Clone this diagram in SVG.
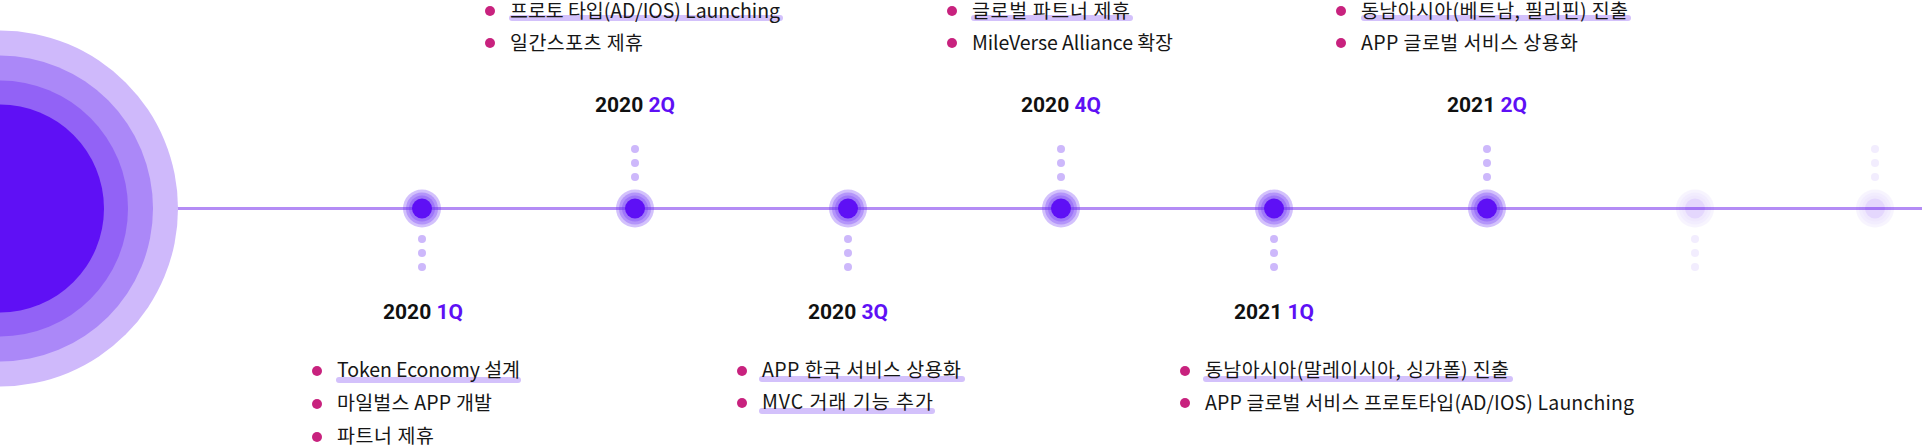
<svg xmlns="http://www.w3.org/2000/svg" width="1922" height="448" viewBox="0 0 1922 448">
<style>
.ttl{font-family:Roboto,"Noto Sans CJK KR",sans-serif;font-weight:700;font-size:21px;fill:#111;text-anchor:middle}
.q{fill:#5e10f5}
.item{font-family:"Noto Sans CJK KR","Noto Sans",sans-serif;font-size:19.5px;fill:#161616}
.bul{fill:#c8227e}
.hl{fill:#d3c1fb}
.dot{fill:#cdb8fb}
.ring{fill:#6e32f5;fill-opacity:0.3}
.core{fill:#5e10f5}
.faded{opacity:0.16}
.fdot{fill:#cdb8fb;opacity:0.25}
</style>
<defs>
<g id="nd">
<circle class="ring" r="19"/>
<circle class="ring" r="16"/>
<circle class="ring" r="13"/>
<circle class="core" r="10"/>
</g>
</defs>
<rect width="1922" height="448" fill="#fff"/>
<g id="connectors">
<line x1="0" y1="208.5" x2="1922" y2="208.5" stroke="#b48cf5" stroke-width="3"/>
</g>
<g id="origin">
<circle cx="0" cy="208.5" r="178" fill="#cfb9fb"/>
<circle cx="0" cy="208.5" r="153" fill="#ab88f8"/>
<circle cx="0" cy="208.5" r="128" fill="#9262f6"/>
<circle cx="0" cy="208.5" r="104" fill="#5f10f5"/>
</g>
<g id="n2020-1q">
<use href="#nd" x="422" y="208.5"/>
<circle class="dot" cx="422" cy="239" r="4"/><circle class="dot" cx="422" cy="253" r="4"/><circle class="dot" cx="422" cy="267" r="4"/>
<text class="ttl" x="423" y="319">2020 <tspan class="q">1Q</tspan></text>
<rect class="hl" x="336" y="377" width="185" height="6" rx="3"/>
<circle class="bul" cx="317" cy="371" r="5"/><text class="item" x="337" y="377" textLength="183">Token Economy 설계</text>
<circle class="bul" cx="317" cy="404" r="5"/><text class="item" x="337" y="410" textLength="155">마일벌스 APP 개발</text>
<circle class="bul" cx="317" cy="437" r="5"/><text class="item" x="337" y="443" textLength="97">파트너 제휴</text>
</g>
<g id="n2020-2q">
<use href="#nd" x="635" y="208.5"/>
<circle class="dot" cx="635" cy="149" r="4"/><circle class="dot" cx="635" cy="163" r="4"/><circle class="dot" cx="635" cy="177" r="4"/>
<text class="ttl" x="635" y="112">2020 <tspan class="q">2Q</tspan></text>
<rect class="hl" x="509" y="15" width="274" height="6" rx="3"/>
<circle class="bul" cx="490" cy="11" r="5"/><text class="item" x="510" y="18" textLength="270">프로토 타입(AD/IOS) Launching</text>
<circle class="bul" cx="490" cy="43" r="5"/><text class="item" x="510" y="50" textLength="133">일간스포츠 제휴</text>
</g>
<g id="n2020-3q">
<use href="#nd" x="848" y="208.5"/>
<circle class="dot" cx="848" cy="239" r="4"/><circle class="dot" cx="848" cy="253" r="4"/><circle class="dot" cx="848" cy="267" r="4"/>
<text class="ttl" x="848" y="319">2020 <tspan class="q">3Q</tspan></text>
<rect class="hl" x="759" y="376" width="206" height="6" rx="3"/>
<rect class="hl" x="759" y="408" width="176" height="6" rx="3"/>
<circle class="bul" cx="742" cy="371" r="5"/><text class="item" x="762" y="377" textLength="199">APP 한국 서비스 상용화</text>
<circle class="bul" cx="742" cy="403" r="5"/><text class="item" x="762" y="409" textLength="171">MVC 거래 기능 추가</text>
</g>
<g id="n2020-4q">
<use href="#nd" x="1061" y="208.5"/>
<circle class="dot" cx="1061" cy="149" r="4"/><circle class="dot" cx="1061" cy="163" r="4"/><circle class="dot" cx="1061" cy="177" r="4"/>
<text class="ttl" x="1061" y="112">2020 <tspan class="q">4Q</tspan></text>
<rect class="hl" x="971" y="15" width="162" height="6" rx="3"/>
<circle class="bul" cx="952" cy="11" r="5"/><text class="item" x="972" y="18" textLength="158">글로벌 파트너 제휴</text>
<circle class="bul" cx="952" cy="43" r="5"/><text class="item" x="972" y="50" textLength="201">MileVerse Alliance 확장</text>
</g>
<g id="n2021-1q">
<use href="#nd" x="1274" y="208.5"/>
<circle class="dot" cx="1274" cy="239" r="4"/><circle class="dot" cx="1274" cy="253" r="4"/><circle class="dot" cx="1274" cy="267" r="4"/>
<text class="ttl" x="1274" y="319">2021 <tspan class="q">1Q</tspan></text>
<rect class="hl" x="1203" y="376" width="310" height="6" rx="3"/>
<circle class="bul" cx="1185" cy="371" r="5"/><text class="item" x="1205" y="377" textLength="304">동남아시아(말레이시아, 싱가폴) 진출</text>
<circle class="bul" cx="1185" cy="403" r="5"/><text class="item" x="1205" y="410" textLength="429">APP 글로벌 서비스 프로토타입(AD/IOS) Launching</text>
</g>
<g id="n2021-2q">
<use href="#nd" x="1487" y="208.5"/>
<circle class="dot" cx="1487" cy="149" r="4"/><circle class="dot" cx="1487" cy="163" r="4"/><circle class="dot" cx="1487" cy="177" r="4"/>
<text class="ttl" x="1487" y="112">2021 <tspan class="q">2Q</tspan></text>
<rect class="hl" x="1361" y="15" width="270" height="6" rx="3"/>
<circle class="bul" cx="1341" cy="11" r="5"/><text class="item" x="1361" y="18" textLength="267">동남아시아(베트남, 필리핀) 진출</text>
<circle class="bul" cx="1341" cy="43" r="5"/><text class="item" x="1361" y="50" textLength="217">APP 글로벌 서비스 상용화</text>
</g>
<g id="future-1">
<use href="#nd" class="faded" x="1695" y="208.5"/>
<circle class="fdot" cx="1695" cy="239" r="4"/><circle class="fdot" cx="1695" cy="253" r="4"/><circle class="fdot" cx="1695" cy="267" r="4"/>
</g>
<g id="future-2">
<use href="#nd" class="faded" x="1875" y="208.5"/>
<circle class="fdot" cx="1875" cy="149" r="4"/><circle class="fdot" cx="1875" cy="163" r="4"/><circle class="fdot" cx="1875" cy="177" r="4"/>
</g>
</svg>
